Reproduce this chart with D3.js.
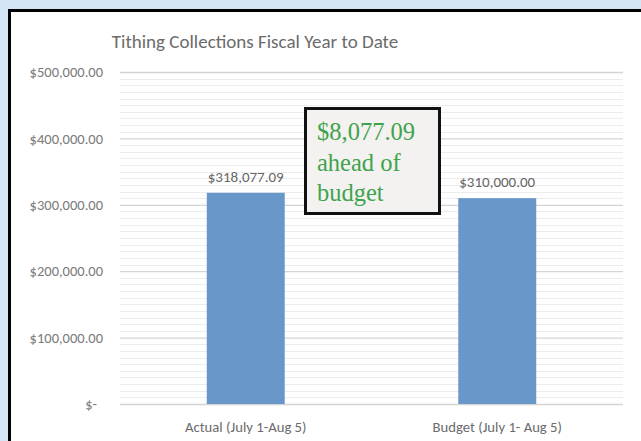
<!DOCTYPE html>
<html>
<head>
<meta charset="utf-8">
<script src="https://cdn.jsdelivr.net/npm/d3@7"></script>
<style>
  body { margin: 0; background: #d3e5f4; }
  svg { display: block; }
</style>
</head>
<body>
<svg width="641" height="441"></svg>
<script>
const categories = ["Actual (July 1-Aug 5)", "Budget (July 1- Aug 5)"];
const values = [318077.09, 310000.00];
const yTicks = [0, 100000, 200000, 300000, 400000, 500000];
const title = "Tithing Collections Fiscal Year to Date";
const noteLines = ["$8,077.09", "ahead of", "budget"];

const svg = d3.select("svg");
const uiFont = "Carlito, 'Open Sans', sans-serif";

// page background + black framed white panel (runs off right/bottom)
svg.append("rect").attr("width", 641).attr("height", 441).attr("fill", "#d3e5f4");
svg.append("rect")
    .attr("x", 9.5).attr("y", 10.5)
    .attr("width", 700).attr("height", 500)
    .attr("fill", "#ffffff")
    .attr("stroke", "#000").attr("stroke-width", 3);

const plot = { left: 120, right: 623, top: 72, bottom: 404 };

const x = d3.scaleBand()
    .domain(categories)
    .range([plot.left, plot.right])
    .paddingInner(0.69)
    .paddingOuter(0.345);

const y = d3.scaleLinear()
    .domain([0, 500000])
    .range([plot.bottom, plot.top]);

// minor gridlines every 10k
const minor = d3.range(0, 500001, 10000).filter(v => v % 100000 !== 0);
svg.append("g").selectAll("line")
    .data(minor)
    .join("line")
    .attr("x1", plot.left).attr("x2", plot.right)
    .attr("y1", d => Math.round(y(d)) + 0.5).attr("y2", d => Math.round(y(d)) + 0.5)
    .attr("stroke", "#ececec").attr("stroke-width", 1);

// major gridlines + y labels
const yAxis = d3.axisLeft(y)
    .tickValues(yTicks)
    .tickSize(-(plot.right - plot.left))
    .tickPadding(17)
    .tickFormat(d => d === 0 ? "$-" : "$" + d3.format(",.2f")(d));

const yg = svg.append("g")
    .attr("transform", `translate(${plot.left},0)`)
    .call(yAxis);
yg.select(".domain").remove();
yg.selectAll(".tick line").attr("stroke", "#d4d4d4").attr("stroke-width", 1.3);
yg.selectAll(".tick text")
    .attr("fill", "#7a7a7a")
    .style("font-family", uiFont)
    .style("font-size", "14.5px")
    .attr("dx", d => d === 0 ? -6 : 0);

// bars
svg.append("g").selectAll("rect")
    .data(values)
    .join("rect")
    .attr("x", (d, i) => x(categories[i]))
    .attr("y", d => y(d))
    .attr("width", x.bandwidth())
    .attr("height", d => y(0) - y(d))
    .attr("fill", "#6897c9");

// value labels
svg.append("g").selectAll("text")
    .data(values)
    .join("text")
    .attr("x", (d, i) => x(categories[i]) + x.bandwidth() / 2)
    .attr("y", d => y(d) - 11)
    .attr("text-anchor", "middle")
    .attr("fill", "#666")
    .style("font-family", uiFont)
    .style("font-size", "15px")
    .text(d => "$" + d3.format(",.2f")(d));

// category labels
svg.append("g").selectAll("text")
    .data(categories)
    .join("text")
    .attr("x", d => x(d) + x.bandwidth() / 2)
    .attr("y", 432)
    .attr("text-anchor", "middle")
    .attr("fill", "#6b6b6b")
    .style("font-family", uiFont)
    .style("font-size", "14.7px")
    .text(d => d);

// title
svg.append("text")
    .attr("x", 255).attr("y", 48)
    .attr("text-anchor", "middle")
    .attr("fill", "#6b6b6b")
    .style("font-family", uiFont)
    .style("font-size", "19px")
    .text(title);

// annotation box
const note = svg.append("g");
note.append("rect")
    .attr("x", 305.5).attr("y", 108.5)
    .attr("width", 134).attr("height", 105)
    .attr("fill", "#f3f2f0")
    .attr("stroke", "#111").attr("stroke-width", 3);
note.selectAll("text")
    .data(noteLines)
    .join("text")
    .attr("x", 317)
    .attr("y", (d, i) => 140 + i * 30.5)
    .attr("fill", "#3fa34d")
    .style("font-family", "'Liberation Serif', 'DejaVu Serif', serif")
    .style("font-size", "24.5px")
    .text(d => d);
</script>
</body>
</html>
